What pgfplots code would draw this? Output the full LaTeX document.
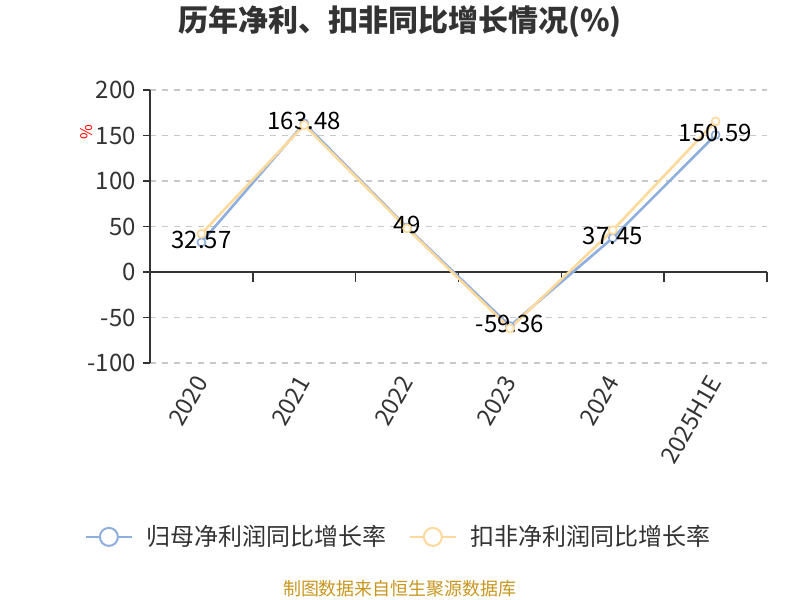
\documentclass[border=0pt]{standalone}
\usepackage{pgfplots}
\pgfplotsset{compat=1.18}
\usepackage{pgfplotstable}
\usepackage{fontspec}
\setmainfont{Noto Sans CJK SC}
\definecolor{cblue}{HTML}{8EAEE0}
\definecolor{corange}{HTML}{FDD99C}
\definecolor{ctxt}{HTML}{333333}
\definecolor{cgrid}{HTML}{C8C8C8}
\definecolor{cfoot}{HTML}{C8961E}
\pgfplotstableread{
x y lab
0 32.57 32.57
1 163.48 163.48
2 49 49
3 -59.36 -59.36
4 37.45 37.45
5 150.59 150.59
}\tblA
\pgfplotstableread{
x y
0 42
1 161.5
2 48
3 -62
4 46
5 165.5
}\tblB
\begin{document}
\begin{tikzpicture}
\useasboundingbox (0,0) rectangle (400pt,300pt);
\begin{axis}[
  at={(75pt,118.5pt)}, anchor=south west,
  scale only axis, width=308.5pt, height=136.5pt,
  xmin=-0.5, xmax=5.5, ymin=-100, ymax=200,
  axis y line*=left, axis x line*=bottom,
  x axis line style={draw=none},
  y axis line style={-, ctxt, line width=0.8pt},
  xtick={0,...,5},
  xticklabels={2020,2021,2022,2023,2024,2025H1E},
  xtick style={draw=none},
  xticklabel style={rotate=60, anchor=east, yshift=-2pt, font=\fontsize{11.8pt}{13pt}\selectfont, text=ctxt},
  ytick={-100,-50,0,50,100,150,200},
  ytick style={ctxt, line width=0.8pt},
  tick align=outside, major tick length=3.5pt,
  yticklabel style={font=\fontsize{12pt}{13pt}\selectfont, text=ctxt},
  /pgf/number format/assume math mode=true,
  ymajorgrids, grid style={cgrid, dash pattern=on 3pt off 3pt, line width=0.6pt},
  clip=false,
  legend style={at={(0.405,-0.637)}, anchor=center, draw=none, legend columns=2,
    font=\fontsize{12pt}{14pt}\selectfont, text=ctxt,
    /tikz/every even column/.append style={column sep=9pt}},
  legend image code/.code={
    \draw[line width=1pt] (0pt,0pt) -- (23pt,0pt);
    \draw[line width=1pt, fill=white] (11.5pt,0pt) circle (4.5pt);
  },
]
\draw[ctxt, line width=0.8pt] (axis cs:-0.5,0) -- (axis cs:5.5,0);
\foreach \xx in {0.5,1.5,2.5,3.5,4.5,5.5} {
  \edef\tmp{\noexpand\draw[ctxt, line width=0.8pt] (axis cs:\xx,0) -- (axis cs:\xx,-11);}\tmp
}
\addplot[cblue, line width=1.3pt, mark=*, mark size=2pt, mark options={fill=white, line width=0.8pt},
  nodes near coords, point meta=explicit symbolic,
  every node near coord/.append style={anchor=center, text=black, font=\fontsize{12pt}{13pt}\selectfont, yshift=1pt}]
  table[x=x, y=y, meta=lab] {\tblA};
\addlegendentry{\hspace{5pt}归母净利润同比增长率}
\addplot[corange, line width=1.3pt, mark=*, mark size=2pt, mark options={fill=white, line width=0.8pt}]
  table[x=x, y=y] {\tblB};
\addlegendentry{\hspace{5pt}扣非净利润同比增长率}
\end{axis}
\node[font=\bfseries\fontsize{15pt}{16pt}\selectfont, text=ctxt] at (200pt,289pt) {历年净利、扣非同比增长情况(\%)};
\node[red, rotate=90, font=\fontsize{8pt}{9pt}\selectfont] at (43.5pt,234pt) {\%};
\node[cfoot, font=\fontsize{9pt}{10pt}\selectfont] at (200pt,5.5pt) {制图数据来自恒生聚源数据库};
\end{tikzpicture}
\end{document}
